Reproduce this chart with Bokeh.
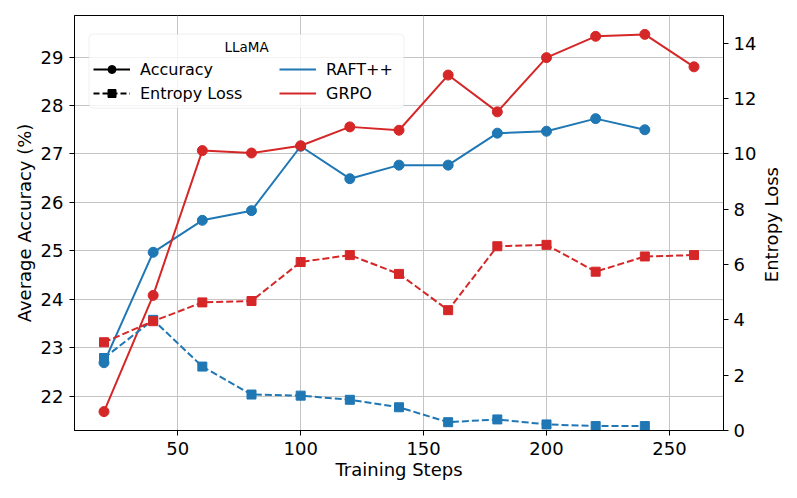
import math
from bokeh.plotting import figure
from bokeh.layouts import row
from bokeh.models import Range1d, LinearAxis, Legend, LegendItem, Label, FixedTicker, BoxAnnotation
from bokeh.embed import file_html
from bokeh.resources import INLINE

# ---- data ----
steps_raft = [20, 40, 60, 80, 100, 120, 140, 160, 180, 200, 220, 240]
steps_grpo = [20, 40, 60, 80, 100, 120, 140, 160, 180, 200, 220, 240, 260]
raft_acc = [22.69, 24.97, 25.63, 25.83, 27.16, 26.49, 26.77, 26.77, 27.43, 27.47, 27.73, 27.50]
grpo_acc = [21.68, 24.08, 27.07, 27.02, 27.17, 27.56, 27.49, 28.63, 27.87, 28.99, 29.43, 29.47, 28.80]
raft_ent = [2.62, 4.00, 2.31, 1.30, 1.26, 1.11, 0.84, 0.30, 0.40, 0.22, 0.16, 0.16]
grpo_ent = [3.19, 3.95, 4.63, 4.68, 6.09, 6.34, 5.66, 4.35, 6.66, 6.71, 5.74, 6.29, 6.34]
x_ticks = [50, 100, 150, 200, 250]
acc_ticks = [22, 23, 24, 25, 26, 27, 28, 29]
ent_ticks = [0, 2, 4, 6, 8, 10, 12, 14]

BLUE = "#1f77b4"
RED = "#d62728"
FONT = "DejaVu Sans"
NAN = [float("nan")]

p = figure(frame_width=649, frame_height=415,
           min_border_left=74, min_border_right=37, min_border_top=15, min_border_bottom=68,
           x_range=Range1d(8, 272), y_range=Range1d(21.29, 29.86),
           output_backend="svg", toolbar_location=None)
p.extra_y_ranges = {"ent": Range1d(0, 15)}

p.outline_line_color = "black"
p.outline_line_width = 1
p.background_fill_color = "white"

def style_axis(ax):
    ax.major_label_text_font = FONT
    ax.major_label_text_font_size = "18px"
    ax.major_label_text_color = "black"
    ax.axis_label_text_font = FONT
    ax.axis_label_text_font_size = "18px"
    ax.axis_label_text_font_style = "normal"
    ax.axis_label_text_color = "black"
    ax.minor_tick_line_color = None
    ax.major_tick_out = 5
    ax.major_tick_in = 0
    ax.major_tick_line_color = "black"
    ax.axis_line_color = "black"
    ax.major_label_standoff = 6

p.xaxis.ticker = FixedTicker(ticks=x_ticks)
p.yaxis.ticker = FixedTicker(ticks=acc_ticks)
p.xaxis.axis_label = "Training Steps"
p.yaxis.axis_label = "Average Accuracy (%)"
style_axis(p.xaxis[0])
style_axis(p.yaxis[0])
p.xaxis.major_label_standoff = 6
p.xaxis.axis_label_standoff = 1
p.yaxis.axis_label_standoff = 3

right = LinearAxis(y_range_name="ent", ticker=FixedTicker(ticks=ent_ticks))
style_axis(right)
right.major_label_standoff = 5
p.add_layout(right, "right")

p.xgrid.grid_line_color = "#c4c4c4"
p.ygrid.grid_line_color = "#c4c4c4"
p.xgrid.ticker = FixedTicker(ticks=x_ticks)
p.ygrid.ticker = FixedTicker(ticks=acc_ticks)

# accuracy lines
p.line(steps_raft, raft_acc, color=BLUE, line_width=2)
p.scatter(steps_raft, raft_acc, marker="circle", size=10, color=BLUE)
p.line(steps_grpo, grpo_acc, color=RED, line_width=2)
p.scatter(steps_grpo, grpo_acc, marker="circle", size=10, color=RED)

# entropy lines
p.line(steps_raft, raft_ent, color=BLUE, line_width=2, line_dash="7 3", y_range_name="ent")
p.scatter(steps_raft, raft_ent, marker="square", size=9, color=BLUE, y_range_name="ent")
p.line(steps_grpo, grpo_ent, color=RED, line_width=2, line_dash="7 3", y_range_name="ent")
p.scatter(steps_grpo, grpo_ent, marker="square", size=9, color=RED, y_range_name="ent")

# legend proxies (no visible data)
la = p.line(NAN, NAN, color="black", line_width=2)
sa = p.scatter(NAN, NAN, marker="circle", size=9, color="black")
le = p.line(NAN, NAN, color="black", line_width=2, line_dash="6 3")
se = p.scatter(NAN, NAN, marker="square", size=8, color="black")
lr = p.line(NAN, NAN, color=BLUE, line_width=2)
lg = p.line(NAN, NAN, color=RED, line_width=2)

# legend frame
frame_box = BoxAnnotation(left=13.9, right=142.0, top=29.475, bottom=27.947,
                          fill_color="white", fill_alpha=0.8,
                          line_color="#cccccc", line_width=1, border_radius=4)
p.add_layout(frame_box)

def make_legend(items, loc):
    lg_ = Legend(items=items, location=loc)
    lg_.label_text_font = FONT
    lg_.label_text_font_size = "16px"
    lg_.label_text_color = "black"
    lg_.padding = 0
    lg_.margin = 0
    lg_.spacing = 4
    lg_.label_height = 20
    lg_.glyph_height = 20
    lg_.glyph_width = 37
    lg_.label_standoff = 10
    lg_.border_line_color = None
    lg_.background_fill_alpha = 0
    return lg_

legA = make_legend([LegendItem(label="Accuracy", renderers=[la, sa]),
                    LegendItem(label="Entropy Loss", renderers=[le, se])], (19, 327))
legB = make_legend([LegendItem(label="RAFT++", renderers=[lr]),
                    LegendItem(label="GRPO", renderers=[lg])], (205, 327))
p.add_layout(legA)
p.add_layout(legB)

p.add_layout(Label(x=78, y=29.217, text="LLaMA", text_align="center", text_baseline="middle",
                   text_font=FONT, text_font_size="13.5px", text_color="black"))

# narrow strip on the right holding the secondary axis title (reads bottom-to-top)
q = figure(frame_width=37, frame_height=498, min_border=0,
           x_range=Range1d(0, 1), y_range=Range1d(0, 1),
           x_axis_type=None, y_axis_type=None,
           output_backend="svg", toolbar_location=None)
q.outline_line_color = None
q.xgrid.visible = False
q.ygrid.visible = False
q.add_layout(Label(x=0.29, y=0.58, text="Entropy Loss", angle=math.pi / 2,
                   text_align="center", text_baseline="middle",
                   text_font=FONT, text_font_size="18px", text_color="black"))

layout = row(p, q, spacing=0)
open("out.html", "w").write(file_html(layout, INLINE))
